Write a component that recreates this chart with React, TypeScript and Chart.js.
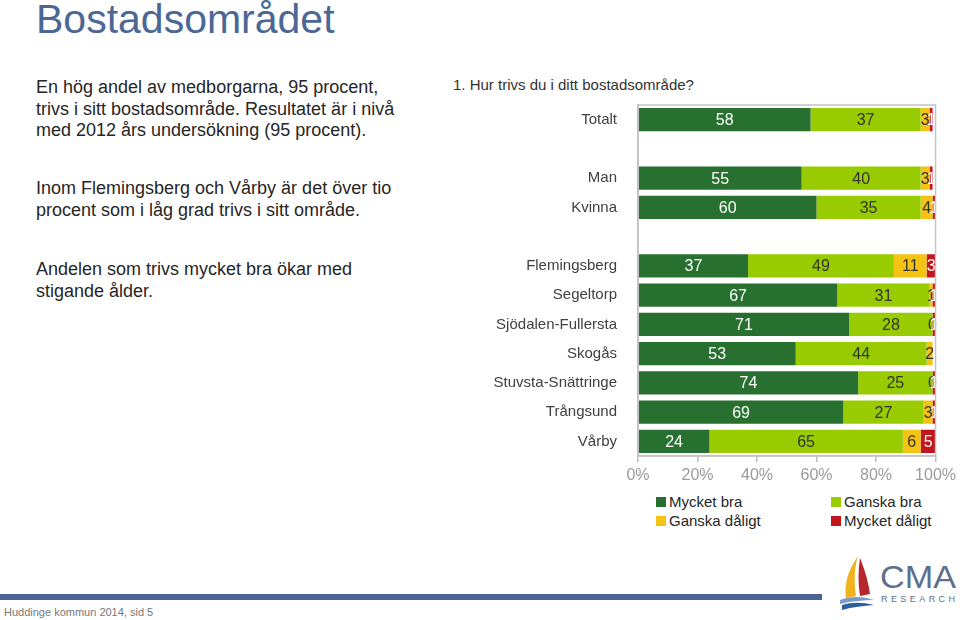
import React, { useEffect, useRef } from "react";
import { Chart, registerables } from "chart.js";

Chart.register(...registerables);

const categories = ["Totalt", "", "Man", "Kvinna", "", "Flemingsberg", "Segeltorp", "Sjödalen-Fullersta", "Skogås", "Stuvsta-Snättringe", "Trångsund", "Vårby"];
const mycketBra = [58, null, 55, 60, null, 37, 67, 71, 53, 74, 69, 24];
const ganskaBra = [37, null, 40, 35, null, 49, 31, 28, 44, 25, 27, 65];
const ganskaDaligt = [3, null, 3, 4, null, 11, 1, 0, 2, 0, 3, 6];
const mycketDaligt = [1, null, 1, 1, null, 3, 1, 1, null, 1, 1, 5];
const seriesNames = ["Mycket bra", "Ganska bra", "Ganska dåligt", "Mycket dåligt"];
const seriesColors = ["#287030", "#99cc00", "#f4c313", "#c2161f"];
const labelColors = ["#ffffff", "#333333", "#333333", "#ffffff"];
const xTicks = ["0%", "20%", "40%", "60%", "80%", "100%"];

const FONT = "'Liberation Sans', Arial, sans-serif";

const labelPlugin = {
  id: "segLabels",
  afterDatasetsDraw(chart: any) {
    const ctx = chart.ctx;
    const area = chart.chartArea;
    ctx.save();
    ctx.beginPath();
    ctx.rect(area.left, area.top, area.right - area.left + 1, area.bottom - area.top);
    ctx.clip();
    ctx.font = "16px " + FONT;
    ctx.textAlign = "center";
    ctx.textBaseline = "middle";
    chart.data.datasets.forEach((ds: any, di: number) => {
      const meta = chart.getDatasetMeta(di);
      meta.data.forEach((el: any, i: number) => {
        const v = ds.data[i];
        if (v === null || v === undefined) return;
        const p = el.getCenterPoint();
        ctx.fillStyle = labelColors[di];
        ctx.fillText(String(v), p.x, p.y + 1);
      });
    });
    ctx.restore();
  },
};

const borderPlugin = {
  id: "plotBorder",
  afterDraw(chart: any) {
    const { ctx, chartArea: a } = chart;
    ctx.save();
    ctx.strokeStyle = "#c4c4c4";
    ctx.lineWidth = 1.5;
    ctx.strokeRect(a.left, a.top, a.right - a.left, a.bottom - a.top);
    ctx.restore();
  },
};

function BarChart() {
  const ref = useRef<HTMLCanvasElement | null>(null);
  useEffect(() => {
    if (!ref.current) return;
    const data = [mycketBra, ganskaBra, ganskaDaligt, mycketDaligt];
    const chart = new Chart(ref.current, {
      type: "bar",
      data: {
        labels: categories,
        datasets: data.map((d, i) => ({
          label: seriesNames[i],
          data: d,
          backgroundColor: seriesColors[i],
          borderWidth: 0,
          barPercentage: 0.79,
          categoryPercentage: 1,
        })),
      },
      options: {
        indexAxis: "y",
        responsive: false,
        animation: false,
        layout: { padding: { top: 0, right: 20, left: 0, bottom: 0 } },
        plugins: { legend: { display: false }, tooltip: { enabled: false } },
        scales: {
          x: {
            stacked: true,
            min: 0,
            max: 100,
            ticks: {
              stepSize: 20,
              color: "#9a9a9a",
              font: { family: FONT, size: 16 },
              padding: 4,
              callback: (_v: any, idx: number) => xTicks[idx],
            },
            grid: { drawOnChartArea: false, drawTicks: true, tickLength: 6, color: "#bdbdbd", lineWidth: 1.5 },
            border: { display: true, color: "#bdbdbd", width: 1.5 },
            afterFit: (s: any) => {
              s.height = 34;
            },
          },
          y: {
            stacked: true,
            ticks: { color: "#404040", font: { family: FONT, size: 15 }, padding: 21 },
            grid: { display: false, drawTicks: false },
            border: { display: true, color: "#bdbdbd", width: 1.5 },
            afterFit: (s: any) => {
              s.width = 198;
            },
          },
        },
      },
      plugins: [labelPlugin, borderPlugin],
    } as any);
    return () => chart.destroy();
  }, []);
  return <canvas ref={ref} width={520} height={415} style={{ position: "absolute", left: 440, top: 75 }} />;
}

const abs = (left: number, top: number, extra: React.CSSProperties = {}): React.CSSProperties => ({
  position: "absolute",
  left,
  top,
  whiteSpace: "nowrap",
  ...extra,
});

export default function App() {
  const textStyle: React.CSSProperties = { fontFamily: FONT, fontSize: 18, color: "#262626", lineHeight: "21.5px" };
  const legendItem = (x: number, y: number, i: number) => (
    <div style={abs(x, y, { display: "flex", alignItems: "center", fontFamily: FONT, fontSize: 15, color: "#262626" })}>
      <span style={{ width: 10, height: 10, background: seriesColors[i], display: "inline-block", marginRight: 3 }} />
      {seriesNames[i]}
    </div>
  );
  return (
    <div style={{ position: "fixed", left: 0, top: 0, width: 960, height: 620, background: "#fff", overflow: "hidden" }}>
      <div style={abs(36, -5, { fontFamily: FONT, fontSize: 41, color: "#4a6795", lineHeight: "48px" })}>Bostadsområdet</div>
      <div style={abs(36, 77, textStyle)}>
        En hög andel av medborgarna, 95 procent,
        <br />
        trivs i sitt bostadsområde. Resultatet är i nivå
        <br />
        med 2012 års undersökning (95 procent).
      </div>
      <div style={abs(36, 178, textStyle)}>
        Inom Flemingsberg och Vårby är det över tio
        <br />
        procent som i låg grad trivs i sitt område.
      </div>
      <div style={abs(36, 259, textStyle)}>
        Andelen som trivs mycket bra ökar med
        <br />
        stigande ålder.
      </div>
      <div style={abs(453, 76, { fontFamily: FONT, fontSize: 15, color: "#333" })}>1. Hur trivs du i ditt bostadsområde?</div>
      <BarChart />
      {legendItem(656, 493, 0)}
      {legendItem(831, 493, 1)}
      {legendItem(656, 512, 2)}
      {legendItem(831, 512, 3)}
      <div style={{ position: "absolute", left: 0, top: 594, width: 822, height: 6, background: "#4d6394" }} />
      <div style={abs(4, 606, { fontFamily: FONT, fontSize: 11, color: "#777" })}>Huddinge kommun 2014, sid 5</div>
      <svg style={{ position: "absolute", left: 836, top: 552 }} width={124} height={60}>
        <path d="M22 4 C12 18 8 32 10 46 L20 44 C18 30 18 16 22 4 Z" fill="#f2b21b" />
        <path d="M24 6 C22 18 22 32 24 44 L34 42 C32 28 28 16 24 6 Z" fill="#b5262d" />
        <path d="M4 48 C14 44 26 44 38 48 C28 48 16 49 4 52 Z" fill="#7a9cc6" />
        <path d="M6 53 C16 50 26 50 38 53 C28 54 16 55 6 58 Z" fill="#2e5d9e" />
        <text x={44} y={36} fontFamily={FONT} fontSize={32} fill="#5d6f8c" textLength={76} lengthAdjust="spacingAndGlyphs">CMA</text>
        <text x={45} y={50} fontFamily={FONT} fontSize={9} fill="#5d6f8c" textLength={74} lengthAdjust="spacing">RESEARCH</text>
      </svg>
    </div>
  );
}
